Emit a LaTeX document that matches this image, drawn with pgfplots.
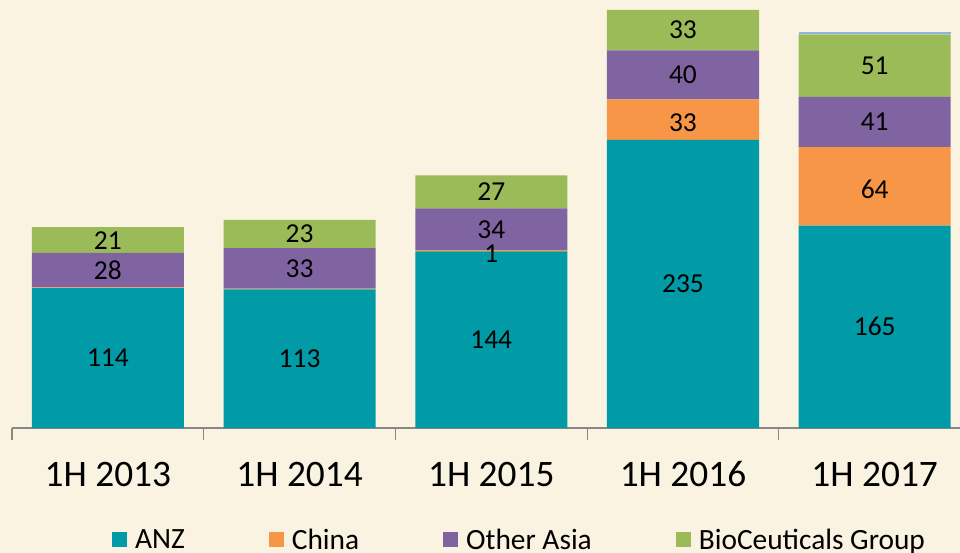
\documentclass[border=0pt]{standalone}
\usepackage{pgfplots}
\pgfplotsset{compat=1.18}
\usepackage{pgfplotstable}
\usepackage{fontspec}
\setmainfont{Carlito}
\definecolor{bg}{HTML}{FAF3E1}
\definecolor{anz}{HTML}{009BA6}
\definecolor{china}{HTML}{F79646}
\definecolor{asia}{HTML}{8064A2}
\definecolor{bio}{HTML}{9BBB59}
\definecolor{topc}{HTML}{8EB4E3}
\definecolor{axisgrey}{HTML}{878787}
\pgfplotstableread{
x anz anzl china chinal asia asial bio biol top topl
0 114 114 0.7 {} 28 28 21 21 0 {}
1 113 113 0.7 {} 33 33 23 23 0 {}
2 144 144 1 1 34 34 27 27 0 {}
3 235 235 33 33 40 40 33 33 0 {}
4 165 165 64 64 41 41 51 51 1.5 {}
}\data
\begin{document}
\begin{tikzpicture}
\fill[bg] (-12bp,-125bp) rectangle (948bp,428bp);
\begin{axis}[
  at={(0bp,0bp)}, anchor=south west,
  scale only axis, width=948bp, height=428bp,
  xmin=-0.5, xmax=4.445, ymin=0, ymax=349,
  ybar stacked, bar width=0.793,
  axis y line=none,
  axis x line*=bottom,
  x axis line style={axisgrey, line width=1.2bp, -},
  xtick={0,1,2,3,4},
  xticklabels={1H 2013,1H 2014,1H 2015,1H 2016,1H 2017},
  major x tick style={draw=none},
  minor xtick={-0.5,0.5,1.5,2.5,3.5},
  minor x tick style={axisgrey, line width=1.2bp},
  minor tick length=12bp,
  tick align=outside,
  xticklabel style={font=\fontsize{37.5}{40}\selectfont, anchor=base, yshift=-54bp},
  clip=false,
  point meta=explicit symbolic,
  nodes near coords={\pgfplotspointmeta},
  every node near coord/.append style={font=\fontsize{27.5}{30}\selectfont, anchor=center, text=black},
  legend columns=-1,
  legend style={at={(axis description cs:0.5354,-0.2617)}, anchor=center, draw=none, fill=none,
    font=\fontsize{29.5}{32}\selectfont,
    /tikz/every odd column/.append style={column sep=6bp},
    /tikz/every even column/.append style={column sep=82bp}},
  legend image code/.code={\fill[#1] (0bp,-7bp) rectangle (15bp,8bp);},
]
\addplot+[fill=anz, draw=none] table[x=x, y=anz, meta=anzl] \data;
\addlegendentry{ANZ}
\addplot+[fill=china, draw=none, every node near coord/.append style={yshift=-3bp}] table[x=x, y=china, meta=chinal] \data;
\addlegendentry{China}
\addplot+[fill=asia, draw=none] table[x=x, y=asia, meta=asial] \data;
\addlegendentry{Other Asia}
\addplot+[fill=bio, draw=none] table[x=x, y=bio, meta=biol] \data;
\addlegendentry{BioCeuticals Group}
\addplot+[fill=topc, draw=none, forget plot] table[x=x, y=top, meta=topl] \data;
\end{axis}
\pgfresetboundingbox
\path (-12bp,-125bp) rectangle (948bp,428bp);
\end{tikzpicture}
\end{document}
